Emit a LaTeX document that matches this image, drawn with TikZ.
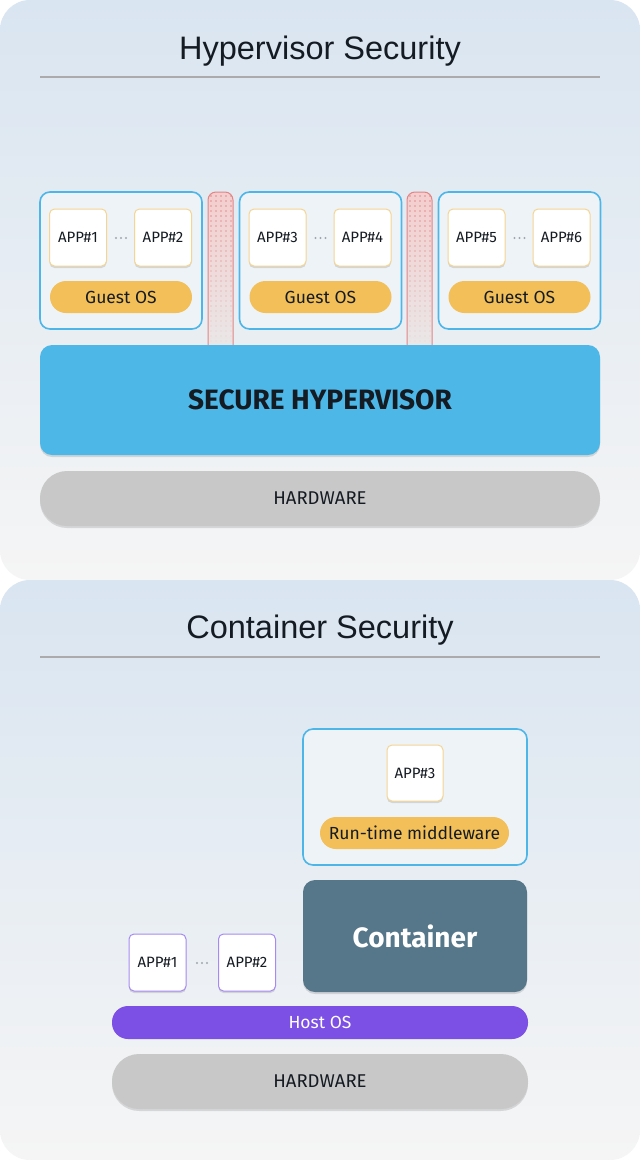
\documentclass[tikz,border=0pt]{standalone}
\usepackage{fontspec}
\setmainfont{Fira Sans}
\newfontfamily\titlefont{Liberation Sans}
\usetikzlibrary{shadows}
\definecolor{panelTop}{HTML}{D9E5F1}
\definecolor{panelBot}{HTML}{F5F5F5}
\definecolor{ruleGray}{HTML}{ABABAB}
\definecolor{textDark}{HTML}{151B22}
\definecolor{guestBlue}{HTML}{4DB6E8}
\definecolor{guestFill}{HTML}{EEF3F8}
\definecolor{appYellow}{HTML}{F5D592}
\definecolor{osYellow}{HTML}{F2BF58}
\definecolor{hyperBlue}{HTML}{4DB8E8}
\definecolor{hwGray}{HTML}{C8C8C8}
\definecolor{contSlate}{HTML}{557789}
\definecolor{hostPurple}{HTML}{7C50E5}
\definecolor{appPurple}{HTML}{A68AF2}
\definecolor{pillarRed}{HTML}{E38585}
\definecolor{dotGray}{HTML}{A0A6AE}
\begin{document}
\begin{tikzpicture}
		[x=1pt,y=-1pt,
		panel/.style={rounded corners=30pt,top color=panelTop,bottom color=panelBot},
		title/.style={anchor=base,font=\titlefont\fontsize{32.5}{38}\selectfont,text=textDark},
		rule/.style={draw=ruleGray,line width=1.8pt},
		softshadow/.style={drop shadow={shadow xshift=0pt,shadow yshift=-2pt,opacity=0.12,fill=black}},
		guestbox/.style={draw=guestBlue,line width=1.6pt,fill=guestFill,rounded corners=10pt,inner sep=0pt},
		app/.style={draw=appYellow,line width=1pt,fill=white,rounded corners=5pt,minimum size=57pt,inner sep=0pt,
			font=\fontsize{15}{17}\selectfont,text=textDark,softshadow},
		guestos/.style={fill=osYellow,rounded corners=16pt,minimum width=142pt,minimum height=32pt,inner sep=0pt,
			font=\fontsize{17.5}{20}\selectfont,text=textDark},
		pillar/.style={draw=pillarRed,line width=1pt,rounded corners=8pt,top color=pillarRed!40,bottom color=hwGray!40},
		hyper/.style={fill=hyperBlue,rounded corners=12pt,minimum width=560pt,minimum height=110pt,inner sep=0pt,
			font=\bfseries\fontsize{28}{32}\selectfont,text=textDark,softshadow},
		hardware/.style={fill=hwGray,rounded corners=27pt,minimum height=55pt,inner sep=0pt,
			font=\fontsize{18.5}{21}\selectfont,text=textDark,softshadow},
		container/.style={fill=contSlate,rounded corners=12pt,minimum width=224pt,minimum height=112pt,inner sep=0pt,
			font=\bfseries\fontsize{28}{32}\selectfont,text=white,softshadow},
		hostos/.style={fill=hostPurple,rounded corners=16pt,minimum width=416pt,minimum height=33pt,inner sep=0pt,
			font=\fontsize{17.5}{20}\selectfont,text=white},
		hostapp/.style={app,draw=appPurple}]
		% background and panels
		\fill[white] (0,0) rectangle (640,1160);
		\shade[panel] (0,0) rectangle (640,580);
		\shade[panel] (0,580) rectangle (640,1160);
		% hypervisor panel
		\node[title,name=htitle] at (320,59) {Hypervisor Security};
		\draw[rule] (40,77) -- (600,77);
		% isolation pillars behind the guests
		\foreach \p in {208,407}
		{
			\draw[pillar] (\p,360) -- (\p,192) -- (\p+25,192) -- (\p+25,360);
			\begin{scope}
				\clip (\p+1,193) rectangle (\p+24,345);
				\foreach \r in {0,...,29}
				{
					\foreach \c in {0,...,4}
					{
						\fill[pillarRed,opacity={0.95-0.03*\r}] (\p+3+5*\c,196+5*\r) circle (0.8);
					}
				}
			\end{scope}
		}
		\foreach \i/\x/\a/\b in {1/121/1/2,2/320.5/3/4,3/519.5/5/6}
		{
			\node[guestbox,minimum width=162pt,minimum height=137pt,name=guest\i] at (\x,260.5) {};
			\node[app,name=app\a] at (\x-43,237.5) {APP\#\a};
			\node[app,name=app\b] at (\x+42,237.5) {APP\#\b};
			\foreach \d in {-5,0,5}
			{
				\fill[dotGray] (\x+\d,238) circle (1.1);
			}
			\node[guestos,name=os\i] at (\x,297) {Guest OS};
		}
		\node[hyper,name=hyper] at (320,400) {SECURE HYPERVISOR};
		\node[hardware,minimum width=560pt,name=hw1] at (320,498.5) {HARDWARE};
		% container panel
		\node[title,name=ctitle] at (320,638) {Container Security};
		\draw[rule] (40,657) -- (600,657);
		\node[guestbox,minimum width=224pt,minimum height=136pt,name=runbox] at (415,797) {};
		\node[app,minimum size=56pt,name=capp3] at (415,773) {APP\#3};
		\node[guestos,minimum width=189pt,name=middle] at (414.5,833) {Run-time middleware};
		\node[container,name=cont] at (415,936) {Container};
		\node[hostapp,name=capp1] at (157.5,962.5) {APP\#1};
		\node[hostapp,name=capp2] at (247,962.5) {APP\#2};
		\foreach \d in {-5,0,5}
		{
			\fill[dotGray] (202+\d,963) circle (1.1);
		}
		\node[hostos,name=host] at (320,1022.5) {Host OS};
		\node[hardware,minimum width=416pt,name=hw2] at (320,1081.5) {HARDWARE};
	\end{tikzpicture}
\end{document}
